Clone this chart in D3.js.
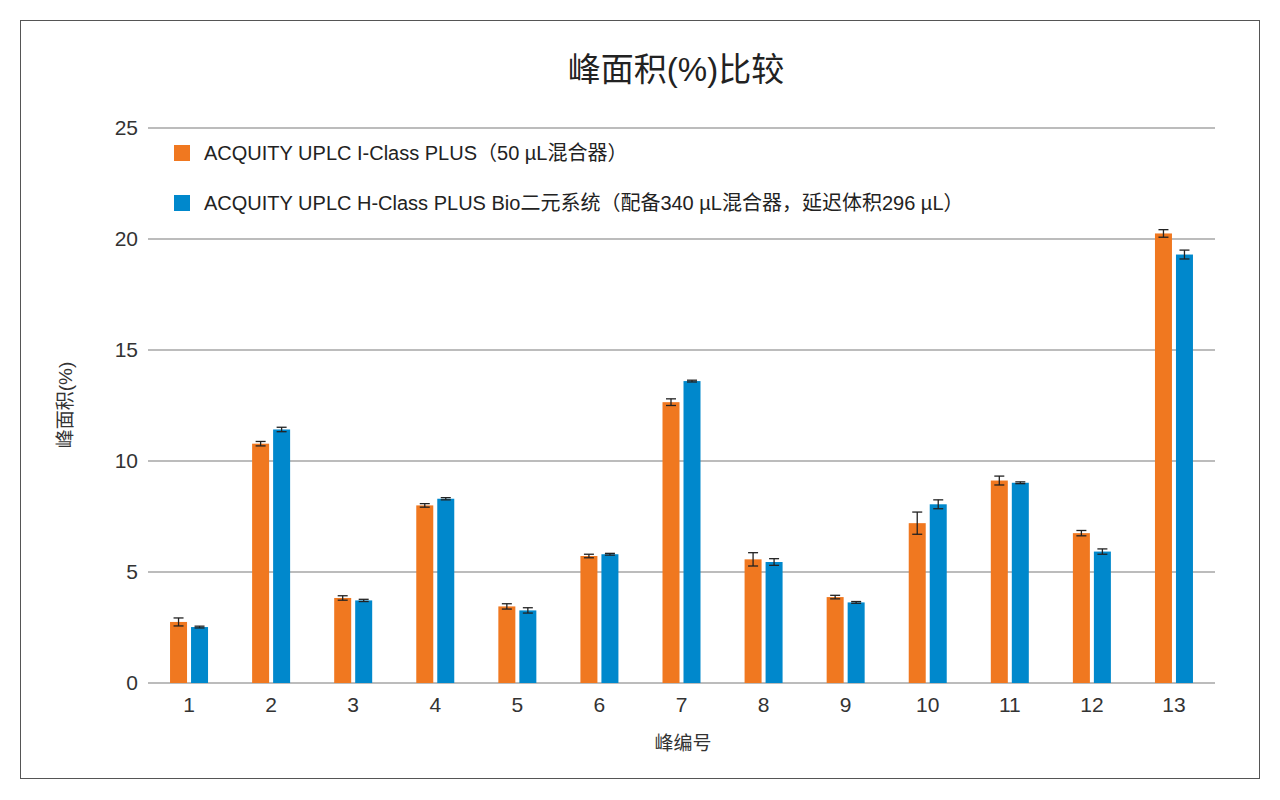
<!DOCTYPE html>
<html><head><meta charset="utf-8">
<script src="https://cdn.jsdelivr.net/npm/d3@7"></script>
<style>body{margin:0;background:#fff;font-family:"Liberation Sans","Noto Sans CJK SC",sans-serif}</style>
</head><body><svg id="c" width="1280" height="800"></svg>
<script>
const categories=["1","2","3","4","5","6","7","8","9","10","11","12","13"];
const seriesNames=["ACQUITY UPLC I-Class PLUS（50 µL混合器）","ACQUITY UPLC H-Class PLUS Bio二元系统（配备340 µL混合器，延迟体积296 µL）"];
const iClass=[2.75,10.78,3.83,8.0,3.45,5.72,12.65,5.57,3.87,7.2,9.12,6.75,20.25];
const iClassErr=[0.18,0.1,0.1,0.08,0.12,0.08,0.15,0.3,0.08,0.5,0.2,0.12,0.17];
const hClass=[2.52,11.42,3.72,8.3,3.27,5.8,13.6,5.45,3.63,8.05,9.02,5.92,19.3];
const hClassErr=[0.04,0.1,0.05,0.05,0.12,0.04,0.04,0.15,0.04,0.2,0.04,0.12,0.2];
const yTicks=[0,5,10,15,20,25];
const colors=["#f07820","#0088cc"];
const font='"Liberation Sans","Noto Sans CJK SC",sans-serif';
const svg=d3.select("#c");
svg.append("rect").attr("x",20.5).attr("y",20.5).attr("width",1239).attr("height",758).attr("fill","none").attr("stroke","#555");
const L=148,R=1215,T=128,B=683;
const x=d3.scaleBand().domain(categories).range([L,R]);
const y=d3.scaleLinear().domain([0,25]).range([B,T]);
const g=svg.append("g");
yTicks.forEach(t=>{
 g.append("line").attr("x1",L).attr("x2",R).attr("y1",y(t)).attr("y2",y(t)).attr("stroke","#a6a6a6").attr("stroke-width",1.5);
 g.append("text").attr("x",L-10).attr("y",y(t)).attr("dy","0.35em").attr("text-anchor","end").attr("font-size",21).attr("fill","#333").attr("font-family",font).text(t);
});
const bw=17,gap=4;
const series=[[iClass,iClassErr],[hClass,hClassErr]];
series.forEach(([vals,errs],si)=>{
 categories.forEach((c,i)=>{
  const cx=x(c)+x.bandwidth()/2;
  const x0=si===0?cx-gap/2-bw:cx+gap/2;
  g.append("rect").attr("x",x0).attr("y",y(vals[i])).attr("width",bw).attr("height",B-y(vals[i])).attr("fill",colors[si]);
  const mx=x0+bw/2, y1=y(vals[i]+errs[i]), y2=y(vals[i]-errs[i]);
  g.append("line").attr("x1",mx).attr("x2",mx).attr("y1",y1).attr("y2",y2).attr("stroke","#222").attr("stroke-width",1.3);
  [y1,y2].forEach(yy=>g.append("line").attr("x1",mx-5).attr("x2",mx+5).attr("y1",yy).attr("y2",yy).attr("stroke","#222").attr("stroke-width",1.3));
 });
});
categories.forEach(c=>g.append("text").attr("x",x(c)+x.bandwidth()/2).attr("y",712).attr("text-anchor","middle").attr("font-size",21).attr("fill","#333").attr("font-family",font).text(c));
svg.append("text").attr("x",676).attr("y",81).attr("text-anchor","middle").attr("font-size",33).attr("fill","#222").attr("font-family",font).text("峰面积(%)比较");
svg.append("text").attr("x",683).attr("y",750).attr("text-anchor","middle").attr("font-size",19).attr("fill","#333").attr("font-family",font).text("峰编号");
svg.append("text").attr("transform","translate(72,405) rotate(-90)").attr("text-anchor","middle").attr("font-size",19).attr("fill","#333").attr("font-family",font).text("峰面积(%)");
seriesNames.forEach((n,i)=>{
 const yy=153+i*50;
 svg.append("rect").attr("x",174).attr("y",yy-8).attr("width",16).attr("height",16).attr("fill",colors[i]);
 svg.append("text").attr("x",204).attr("y",yy).attr("dy","0.35em").attr("font-size",20).attr("fill","#222").attr("font-family",font).text(n);
});
</script></body></html>
